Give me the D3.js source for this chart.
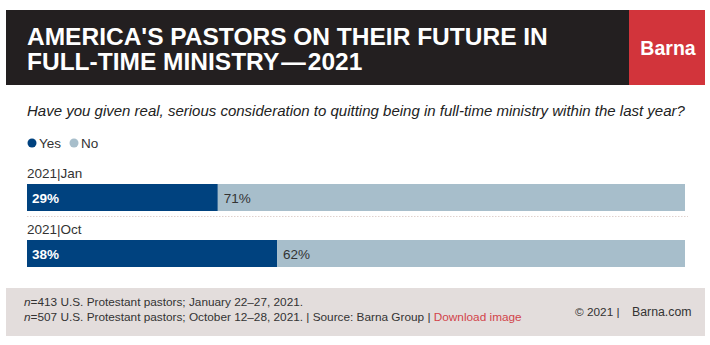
<!DOCTYPE html>
<html>
<head>
<meta charset="utf-8">
<script src="https://cdn.jsdelivr.net/npm/d3@7"></script>
<style>
  html, body { margin: 0; padding: 0; background: #fff; }
  svg { display: block; }
</style>
</head>
<body>
<svg id="chart" width="710" height="345"></svg>
<script>
// Survey waves and answer shares (percent)
const waves = ["2021|Jan", "2021|Oct"];
const yesValues = [29, 38];
const noValues = [71, 62];
const seriesNames = ["Yes", "No"];
const seriesColors = ["#00427f", "#a7becb"];

const titleLines = ["AMERICA'S PASTORS ON THEIR FUTURE IN", "FULL-TIME MINISTRY\u200a\u2014\u200a2021"];
const question = "Have you given real, serious consideration to quitting being in full-time ministry within the last year?";
const footnotes = [
  "n=413 U.S. Protestant pastors; January 22\u201327, 2021.",
  "n=507 U.S. Protestant pastors; October 12\u201328, 2021."
];

const svg = d3.select("#chart");
const font = "'Liberation Sans', Arial, sans-serif";

// Header band
svg.append("rect").attr("x", 6).attr("y", 10).attr("width", 623).attr("height", 75).attr("fill", "#231f20");
svg.append("rect").attr("x", 629).attr("y", 10).attr("width", 76).attr("height", 75).attr("fill", "#d2343b");
svg.append("text").attr("x", 668).attr("y", 55).attr("text-anchor", "middle")
  .attr("font-family", font).attr("font-weight", "bold").attr("font-size", 19.5)
  .attr("fill", "#fff").text("Barna");

svg.selectAll("text.title").data(titleLines).join("text")
  .attr("class", "title")
  .attr("x", 27).attr("y", (d, i) => 45 + i * 25)
  .attr("font-family", font).attr("font-weight", "bold").attr("font-size", 24.5)
  .attr("fill", "#fff").text(d => d);

// Question
svg.append("text").attr("x", 27).attr("y", 116)
  .attr("font-family", font).attr("font-style", "italic").attr("font-size", 15)
  .attr("fill", "#222").text(question);

// Legend
const legend = svg.append("g").attr("transform", "translate(32,143)");
const legendX = [0, 42];
seriesNames.forEach((name, i) => {
  const g = legend.append("g").attr("transform", `translate(${legendX[i]},0)`);
  g.append("circle").attr("r", 4.5).attr("fill", seriesColors[i]);
  g.append("text").attr("x", 7).attr("y", 4.5)
    .attr("font-family", font).attr("font-size", 13.5).attr("fill", "#333").text(name);
});

// Bars
const x = d3.scaleLinear().domain([0, 100]).range([27, 685]);
const y = d3.scaleBand().domain(waves).range([163, 275]).paddingInner(0);
const barTop = w => y(w) + 21;
const barH = 27;

const rows = waves.map((w, i) => ({ wave: w, yes: yesValues[i], no: noValues[i] }));

const row = svg.selectAll("g.row").data(rows).join("g").attr("class", "row");

row.append("text")
  .attr("x", 27).attr("y", d => y(d.wave) + 15)
  .attr("font-family", font).attr("font-size", 13.5).attr("fill", "#333")
  .text(d => d.wave);

row.append("rect")
  .attr("x", x(0)).attr("y", d => barTop(d.wave))
  .attr("width", d => x(d.yes) - x(0)).attr("height", barH)
  .attr("fill", seriesColors[0]);

row.append("rect")
  .attr("x", d => x(d.yes)).attr("y", d => barTop(d.wave))
  .attr("width", d => x(d.yes + d.no) - x(d.yes)).attr("height", barH)
  .attr("fill", seriesColors[1]);

row.append("text")
  .attr("x", x(0) + 5).attr("y", d => barTop(d.wave) + 18.5)
  .attr("font-family", font).attr("font-weight", "bold").attr("font-size", 13.5)
  .attr("fill", "#fff").text(d => d.yes + "%");

row.append("text")
  .attr("x", d => x(d.yes) + 6).attr("y", d => barTop(d.wave) + 18.5)
  .attr("font-family", font).attr("font-size", 13.5)
  .attr("fill", "#333").text(d => d.no + "%");

// Dotted separator between waves
svg.append("line")
  .attr("x1", 27).attr("x2", 688).attr("y1", 216.5).attr("y2", 216.5)
  .attr("stroke", "#e0d2ce").attr("stroke-width", 1).attr("stroke-dasharray", "1.5,1.5");

// Footer
svg.append("rect").attr("x", 6).attr("y", 288).attr("width", 699).attr("height", 48).attr("fill", "#e3dddc");

const foot = svg.append("g").attr("font-family", font).attr("font-size", 11.8).attr("fill", "#333");
footnotes.forEach((line, i) => {
  const t = foot.append("text").attr("x", 24).attr("y", 306 + i * 15);
  t.append("tspan").attr("font-style", "italic").text("n");
  t.append("tspan").text(line.slice(1));
  if (i === 1) {
    t.append("tspan").text(" | Source: Barna Group | ");
    t.append("tspan").attr("fill", "#d2444a").text("Download image");
  }
});
foot.append("text").attr("x", 575).attr("y", 316).text("\u00a9 2021 |");
foot.append("text").attr("x", 632).attr("y", 316).attr("font-size", 12.3).text("Barna.com");
</script>
</body>
</html>
